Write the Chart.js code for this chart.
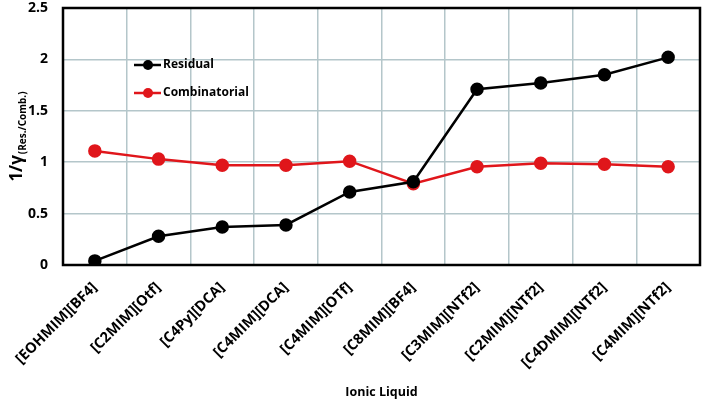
<!DOCTYPE html>
<html lang="en">
<head>
    <meta charset="UTF-8">
    <title>Ionic Liquid chart</title>
    <script src="https://cdn.jsdelivr.net/npm/chart.js"></script>
    <style>
        body { margin: 0; padding: 0; background: #ffffff; }
        #wrap { width: 708px; height: 401px; position: relative; }
    </style>
</head>
<body>
    <div id="wrap"><canvas id="chart"></canvas></div>

    <script>
        // data
        const liquids = ['[EOHMIM][BF4]', '[C2MIM][Otf]', '[C4Py][DCA]', '[C4MIM][DCA]', '[C4MIM][OTf]',
                         '[C8MIM][BF4]', '[C3MIM][NTf2]', '[C2MIM][NTf2]', '[C4DMIM][NTf2]', '[C4MIM][NTf2]'];
        const residual = [0.04, 0.28, 0.37, 0.39, 0.71, 0.81, 1.71, 1.77, 1.85, 2.02];
        const combinatorial = [1.11, 1.03, 0.97, 0.97, 1.01, 0.79, 0.955, 0.99, 0.98, 0.955];
        const yTicks = [0, 0.5, 1, 1.5, 2, 2.5];

        const fontFam = '"Open Sans", "Liberation Sans", sans-serif';
        const gridColor = '#b4c6ca';
        const redColor = '#e0161b';

        // legend + box + y title drawn by hand
        const extras = {
            id: 'extras',
            afterDraw(chart) {
                const ctx = chart.ctx;
                const a = chart.chartArea;
                ctx.save();
                // box around plot
                ctx.strokeStyle = '#000';
                ctx.lineWidth = 2.5;
                ctx.strokeRect(a.left, a.top, a.right - a.left, a.bottom - a.top);

                // legend inside plot
                const items = [['Residual', '#000'], ['Combinatorial', redColor]];
                items.forEach((it, i) => {
                    const y = a.top + 57 + i * 28;
                    const x0 = a.left + 71;
                    ctx.strokeStyle = it[1];
                    ctx.lineWidth = 2.5;
                    ctx.beginPath();
                    ctx.moveTo(x0, y);
                    ctx.lineTo(x0 + 27, y);
                    ctx.stroke();
                    ctx.fillStyle = it[1];
                    ctx.beginPath();
                    ctx.arc(x0 + 14, y, 5, 0, Math.PI * 2);
                    ctx.fill();
                    ctx.fillStyle = '#000';
                    ctx.font = 'bold 12px ' + fontFam;
                    ctx.textBaseline = 'middle';
                    ctx.textAlign = 'left';
                    ctx.fillText(it[0], x0 + 29, y);
                });

                // y axis title with subscript
                ctx.translate(17, (a.top + a.bottom) / 2);
                ctx.rotate(-Math.PI / 2);
                ctx.fillStyle = '#000';
                ctx.textBaseline = 'alphabetic';
                const main = '1/\u03b3';
                const sub = '(Res./Comb.)';
                ctx.font = 'bold 17px ' + fontFam;
                const w1 = ctx.measureText(main).width;
                ctx.font = 'bold 10px ' + fontFam;
                const w2 = ctx.measureText(sub).width;
                const start = -(w1 + w2 + 1) / 2;
                ctx.font = 'bold 17px ' + fontFam;
                ctx.textAlign = 'left';
                ctx.fillText(main, start, 5);
                ctx.font = 'bold 10px ' + fontFam;
                ctx.fillText(sub, start + w1 + 1, 9);
                ctx.restore();
            }
        };

        new Chart(document.getElementById('chart'), {
            type: 'line',
            data: {
                labels: liquids,
                datasets: [
                    {
                        label: 'Residual',
                        data: residual,
                        borderColor: '#000',
                        backgroundColor: '#000',
                        borderWidth: 2.5,
                        pointRadius: 5.5,
                        pointHoverRadius: 5.5,
                        tension: 0
                    },
                    {
                        label: 'Combinatorial',
                        data: combinatorial,
                        borderColor: redColor,
                        backgroundColor: redColor,
                        borderWidth: 2.5,
                        pointRadius: 5.5,
                        pointHoverRadius: 5.5,
                        tension: 0
                    }
                ]
            },
            options: {
                responsive: true,
                maintainAspectRatio: false,
                animation: false,
                layout: { padding: { top: 6, right: 1, left: 0, bottom: 1 } },
                plugins: {
                    legend: { display: false },
                    tooltip: { enabled: false }
                },
                scales: {
                    x: {
                        offset: true,
                        afterFit(scale) {
                            scale.height = 135;
                            scale.paddingLeft = 0;
                            scale.paddingRight = 0;
                        },
                        grid: { offset: true, color: gridColor, lineWidth: 1.5, drawTicks: false },
                        border: { display: false },
                        ticks: {
                            autoSkip: false,
                            maxRotation: 45,
                            minRotation: 45,
                            padding: 14,
                            color: '#000',
                            font: { family: fontFam, weight: 'bold', size: 14.5 }
                        },
                        title: {
                            display: true,
                            text: 'Ionic Liquid',
                            color: '#000',
                            padding: { top: 4, bottom: 0 },
                            font: { family: fontFam, weight: 'bold', size: 12.5 }
                        }
                    },
                    y: {
                        min: 0,
                        max: 2.5,
                        afterBuildTicks(scale) {
                            scale.ticks = yTicks.map(v => ({ value: v }));
                        },
                        afterFit(scale) {
                            scale.width = 63;
                            scale.paddingTop = 0;
                            scale.paddingBottom = 0;
                        },
                        grid: { color: gridColor, lineWidth: 1.5, drawTicks: false },
                        border: { display: false },
                        ticks: {
                            padding: 15,
                            color: '#000',
                            callback: v => String(v),
                            font: { family: fontFam, weight: 'bold', size: 14 }
                        }
                    }
                }
            },
            plugins: [extras]
        });
    </script>
</body>
</html>
